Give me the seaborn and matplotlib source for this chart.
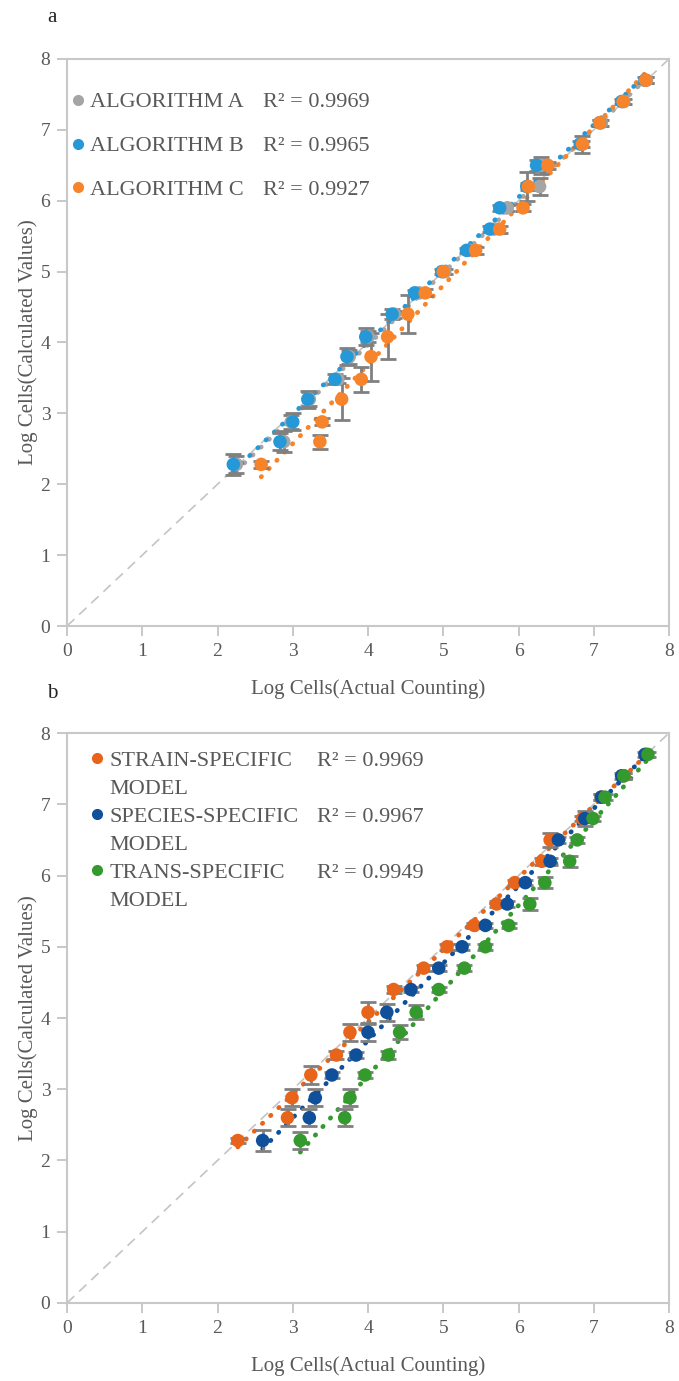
import numpy as np
import pandas as pd
import seaborn as sns
import matplotlib.pyplot as plt
from matplotlib.lines import Line2D

# calculated log values (same levels for every series)
calc = [2.28, 2.6, 2.88, 3.2, 3.48, 3.8, 4.08, 4.4, 4.7, 5.0,
        5.3, 5.6, 5.9, 6.2, 6.5, 6.8, 7.1, 7.4, 7.7]

# panel a - actual counting (x) for each algorithm
alg_a = [2.25, 2.88, 2.98, 3.22, 3.6, 3.75, 4.0, 4.35, 4.68, 5.02,
         5.35, 5.68, 5.85, 6.28, 6.3, 6.85, 7.1, 7.4, 7.7]
alg_b = [2.21, 2.83, 3.0, 3.2, 3.56, 3.72, 3.97, 4.32, 4.62, 4.98,
         5.31, 5.62, 5.75, 6.11, 6.24, 6.82, 7.08, 7.37, 7.68]
alg_c = [2.58, 3.36, 3.39, 3.65, 3.91, 4.04, 4.26, 4.53, 4.76, 5.0,
         5.43, 5.75, 6.06, 6.13, 6.39, 6.85, 7.08, 7.39, 7.69]
err_alg_a = [0.12, 0.15, 0.1, 0.1, 0.05, 0.1, 0.08, 0.05, 0.04, 0.04,
             0.04, 0.04, 0.04, 0.12, 0.12, 0.04, 0.04, 0.04, 0.04]
err_alg_b = [0.15, 0.12, 0.12, 0.12, 0.07, 0.12, 0.12, 0.07, 0.04, 0.04,
             0.04, 0.04, 0.04, 0.2, 0.08, 0.04, 0.04, 0.04, 0.04]
err_alg_c = [0.05, 0.1, 0.05, 0.3, 0.18, 0.34, 0.32, 0.27, 0.05, 0.04,
             0.05, 0.05, 0.05, 0.05, 0.05, 0.12, 0.04, 0.04, 0.04]

# panel b - actual counting (x) for each model
strain = [2.27, 2.93, 2.99, 3.24, 3.58, 3.76, 4.0, 4.34, 4.74, 5.05,
          5.41, 5.71, 5.95, 6.31, 6.42, 6.85, 7.1, 7.4, 7.7]
species = [2.6, 3.22, 3.3, 3.52, 3.84, 4.0, 4.25, 4.57, 4.94, 5.25,
           5.56, 5.85, 6.09, 6.42, 6.53, 6.88, 7.1, 7.37, 7.68]
trans = [3.1, 3.69, 3.76, 3.96, 4.27, 4.42, 4.64, 4.94, 5.28, 5.56,
         5.87, 6.15, 6.35, 6.68, 6.78, 6.99, 7.15, 7.4, 7.72]
err_strain = [0.04, 0.12, 0.12, 0.12, 0.05, 0.12, 0.15, 0.05, 0.04, 0.04,
              0.04, 0.04, 0.04, 0.05, 0.1, 0.04, 0.04, 0.04, 0.04]
err_species = [0.15, 0.12, 0.12, 0.04, 0.04, 0.12, 0.12, 0.04, 0.04, 0.04,
               0.04, 0.04, 0.04, 0.05, 0.04, 0.1, 0.04, 0.04, 0.04]
err_trans = [0.12, 0.12, 0.12, 0.04, 0.05, 0.1, 0.1, 0.04, 0.04, 0.04,
             0.04, 0.08, 0.08, 0.08, 0.04, 0.04, 0.04, 0.04, 0.04]

names_a = ["ALGORITHM A", "ALGORITHM B", "ALGORITHM C"]
r2_a = ["0.9969", "0.9965", "0.9927"]
colors_a = ["#a5a5a5", "#2599d8", "#f7842a"]

names_b = ["STRAIN-SPECIFIC", "SPECIES-SPECIFIC", "TRANS-SPECIFIC"]
r2_b = ["0.9969", "0.9967", "0.9949"]
colors_b = ["#e8641b", "#10509a", "#359a2e"]

TXT = "#595959"

sns.set_theme(style="white")
plt.rcParams['font.family'] = ['Liberation Serif', 'DejaVu Serif']


def make_df(xs, errs, names):
    frames = []
    for x, e, n in zip(xs, errs, names):
        frames.append(pd.DataFrame({"actual": x, "calc": calc, "err": e, "serie": n}))
    return pd.concat(frames, ignore_index=True)


def draw_panel(ax, df, names, colors):
    ax.axline((0, 0), slope=1, color="#c4c4c4", lw=1.2, ls=(0, (6, 4)), zorder=1)
    for n, c in zip(names, colors):
        d = df[df["serie"] == n]
        # dotted linear trendline
        sns.regplot(data=d, x="actual", y="calc", scatter=False, ci=None, ax=ax,
                    color=c, line_kws=dict(ls=(0, (0.1, 2.3)), lw=3.4,
                                           dash_capstyle="round", zorder=2))
        ax.errorbar(d["actual"], d["calc"], yerr=d["err"], fmt="none",
                    ecolor="#808080", elinewidth=2, capsize=6, capthick=2, zorder=3)
    sns.scatterplot(data=df, x="actual", y="calc", hue="serie", hue_order=names,
                    palette=colors, s=95, edgecolor="none", legend=False, ax=ax, zorder=4)
    ax.set_xlim(0, 8)
    ax.set_ylim(0, 8)
    ax.set_xticks(range(9))
    ax.set_yticks(range(9))
    for sp in ax.spines.values():
        sp.set_visible(True)
        sp.set_color("#c8c8c8")
        sp.set_linewidth(1.5)
    ax.tick_params(bottom=True, left=True, direction="out", length=7, width=1.4,
                   color="#c8c8c8", labelcolor=TXT, labelsize=14, pad=5)
    ax.set_xlabel("Log Cells(Actual Counting)", fontsize=15, color=TXT, labelpad=14)
    ax.set_ylabel("Log Cells(Calculated Values)", fontsize=15, color=TXT, labelpad=2)


fig = plt.figure(figsize=(6.79, 13.81), dpi=100)
ax1 = fig.add_axes([0.0987, 0.5467, 0.8866, 0.4106])
ax2 = fig.add_axes([0.0987, 0.0565, 0.8866, 0.4127])

df_a = make_df([alg_a, alg_b, alg_c], [err_alg_a, err_alg_b, err_alg_c], names_a)
df_b = make_df([strain, species, trans], [err_strain, err_species, err_trans], names_b)

draw_panel(ax1, df_a, names_a, colors_a)
draw_panel(ax2, df_b, names_b, colors_b)

blank = Line2D([], [], ls="none", marker="none")

# legend panel a: name column + R2 column
h_a = [Line2D([], [], ls="none", marker="o", color=c, markersize=7) for c in colors_a]
leg1 = ax1.legend(h_a + [blank] * 3, names_a + ["R² = " + r for r in r2_a],
                  ncol=2, loc="upper left", bbox_to_anchor=(0.009, 0.942),
                  frameon=False, fontsize=16, labelcolor=TXT, handlelength=0.5,
                  handletextpad=0.3, columnspacing=0.05, labelspacing=1.05,
                  borderpad=0, borderaxespad=0)

# legend panel b: names on two lines (second row "MODEL")
h_b = []
lab_b = []
for n, c in zip(names_b, colors_b):
    h_b += [Line2D([], [], ls="none", marker="o", color=c, markersize=7), blank]
    lab_b += [n, "MODEL"]
r2_lab_b = []
for r in r2_b:
    r2_lab_b += ["R² = " + r, " "]
leg2 = ax2.legend(h_b + [blank] * 6, lab_b + r2_lab_b,
                  ncol=2, loc="upper left", bbox_to_anchor=(0.041, 0.97),
                  frameon=False, fontsize=16, labelcolor=TXT, handlelength=0.5,
                  handletextpad=0.3, columnspacing=0.0, labelspacing=0.34,
                  borderpad=0, borderaxespad=0)

fig.text(52 / 679, 1 - 18 / 1381, "a", fontsize=15, color="#222222", ha="center", va="center")
fig.text(52 / 679, 1 - 693 / 1381, "b", fontsize=15, color="#222222", ha="center", va="center")

fig.savefig("out.png", dpi=100)
